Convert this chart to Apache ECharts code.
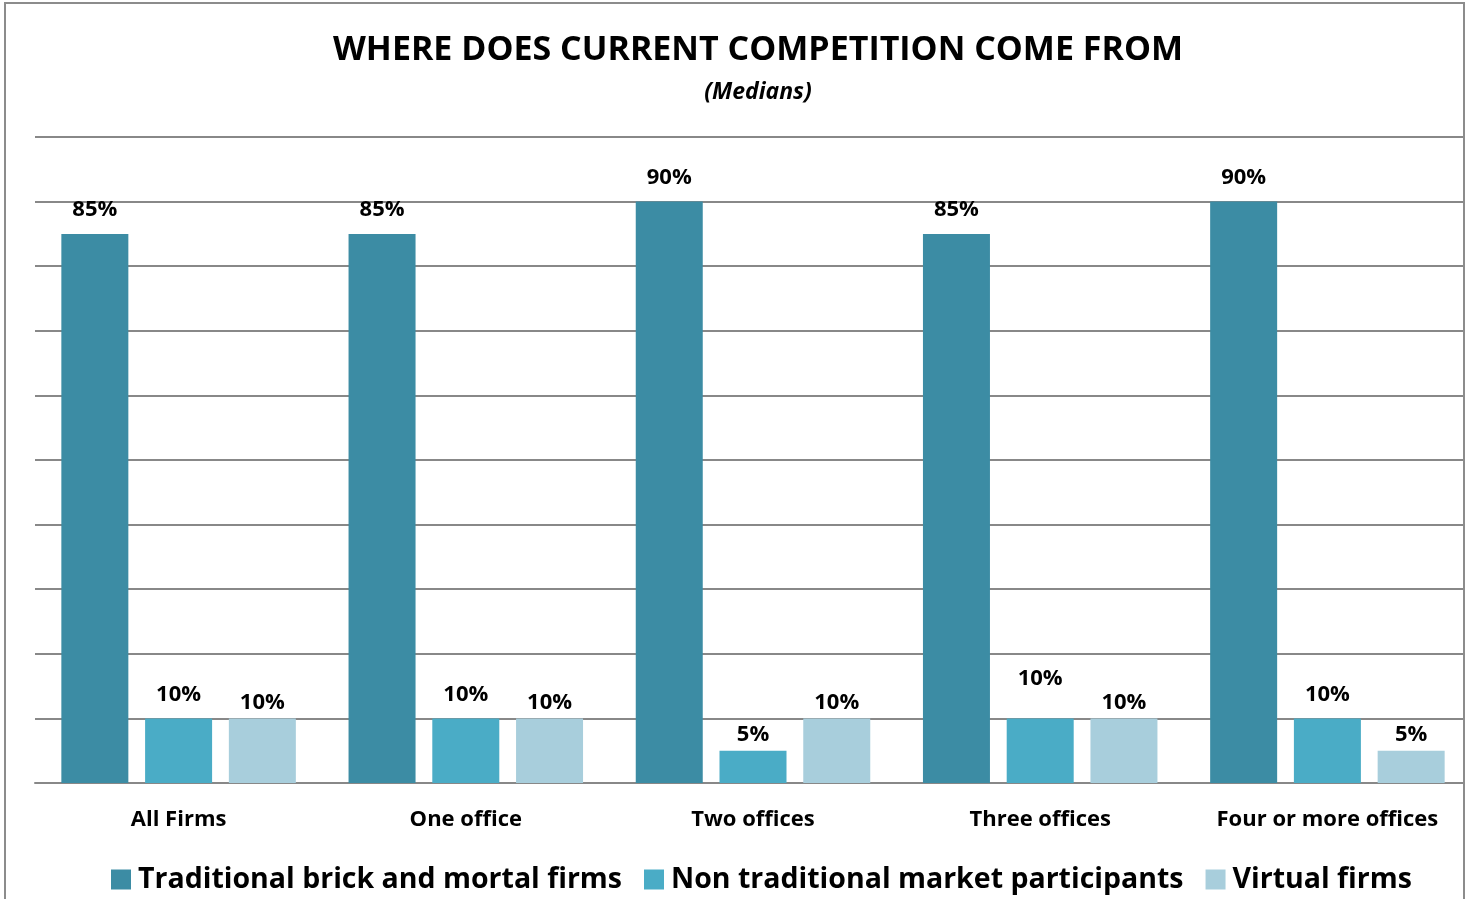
<!DOCTYPE html>
<html lang="en">
<head>
  <meta charset="UTF-8">
  <title>Where does current competition come from</title>
  <script src="https://cdn.jsdelivr.net/npm/echarts@6/dist/echarts.min.js"></script>
  <style>
    html, body { margin: 0; padding: 0; background: #fff; }
  </style>
</head>
<body>
  <div id="main" style="width:1475px;height:899px"></div>

  <script>
    // data
    var categories = ['All Firms', 'One office', 'Two offices', 'Three offices', 'Four or more offices']
    var seriesNames = ['Traditional brick and mortal firms', 'Non traditional market participants', 'Virtual firms']
    var traditional = [85, 85, 90, 85, 90]
    var nonTraditional = [10, 10, 5, 10, 10]
    var virtualFirms = [10, 10, 10, 10, 5]
    var colors = ['#3C8CA4', '#4AACC6', '#A8CEDC']

    var font = '"Open Sans", "Noto Sans", sans-serif'
    var myChart = echarts.init(document.getElementById('main'))

    function bar(name, values, color, dist) {
      return {
        name: name,
        type: 'bar',
        data: values,
        barWidth: 67,
        barGap: '25%',
        itemStyle: { color: color },
        label: {
          show: true,
          position: 'top',
          distance: dist,
          formatter: '{c}%',
          color: '#000',
          fontWeight: 'bold',
          fontSize: 22,
          fontFamily: font
        }
      }
    }

    // label offsets in the original are a bit uneven for the middle series
    var midLabelDist = [13, 13, 5, 29, 13]
    var s2 = bar(seriesNames[1], nonTraditional, colors[1], 13)
    s2.data = nonTraditional.map(function (v, i) {
      return { value: v, label: { distance: midLabelDist[i] } }
    })

    var option = {
      animation: false,
      backgroundColor: '#fff',
      title: {
        text: 'WHERE DOES CURRENT COMPETITION COME FROM',
        subtext: '(Medians)',
        left: 753,
        textAlign: 'center',
        top: 28,
        itemGap: 14,
        textStyle: { fontSize: 34, fontWeight: 'bold', color: '#000', fontFamily: font },
        subtextStyle: { fontSize: 23, fontWeight: 'bold', fontStyle: 'italic', color: '#000', fontFamily: font }
      },
      graphic: [{
        type: 'rect',
        shape: { x: 1465, y: 0, width: 10, height: 899 },
        style: { fill: '#fff' },
        z: 50
      }, {
        type: 'rect',
        shape: { x: 5, y: 3, width: 1459, height: 960 },
        style: { fill: 'none', stroke: '#8C8C8C', lineWidth: 2 },
        z: 51
      }],
      legend: {
        data: seriesNames,
        bottom: 0,
        left: 106,
        itemWidth: 20,
        itemHeight: 20,
        itemGap: 22,
        icon: 'rect',
        textStyle: { fontSize: 28.5, fontWeight: 'bold', color: '#000', fontFamily: font, padding: [0, 0, 0, 2] }
      },
      grid: { left: 35, right: 4, top: 137, bottom: 116 },
      xAxis: {
        type: 'category',
        data: categories,
        axisTick: { show: false },
        axisLine: { lineStyle: { color: '#888', width: 2 } },
        axisLabel: { interval: 0, margin: 26, fontSize: 22, fontWeight: 'bold', color: '#000', fontFamily: font }
      },
      yAxis: {
        type: 'value',
        min: 0,
        max: 100,
        interval: 10,
        axisLabel: { show: false },
        axisLine: { show: false },
        axisTick: { show: false },
        splitLine: { lineStyle: { color: '#888', width: 2 } }
      },
      series: [
        bar(seriesNames[0], traditional, colors[0], 13),
        s2,
        bar(seriesNames[2], virtualFirms, colors[2], 5)
      ]
    }
    myChart.setOption(option)
  </script>
</body>
</html>
